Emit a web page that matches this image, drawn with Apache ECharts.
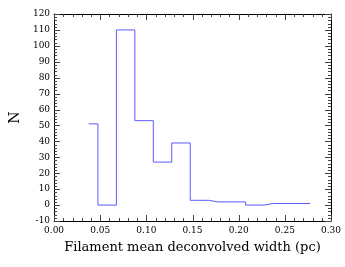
<!DOCTYPE html>
<html><head><meta charset="utf-8">
<script src="https://cdn.jsdelivr.net/npm/echarts@6/dist/echarts.min.js"></script>
<style>html,body{margin:0;padding:0;background:#fff}#c{width:345px;height:267px}</style>
</head><body><div id="c"></div>
<script>
var binCenters = [0.0375,0.0575,0.0775,0.0975,0.1175,0.1375,0.1575,0.1775,0.1975,0.2175,0.2375,0.2575,0.2775];
var counts = [51,0,110,53,27,39,3,2,2,0,1,1,1];
var xTitle = 'Filament mean deconvolved width (pc)';
var yTitle = 'N';
var xMin = 0, xMax = 0.3, xMajor = 0.05, xMinorPerMajor = 5;
var yMin = -10, yMax = 120, yMajor = 10, yMinorPerMajor = 5;
var font = 'DejaVu Serif';
var chart = echarts.init(document.getElementById('c'));

function buildTicks(lo, major, perMajor, nMajor){
  var out = [];
  for (var i = 0; i <= nMajor * perMajor; i++) {
    out.push([lo + i * major / perMajor, i % perMajor === 0 ? 1 : 0]);
  }
  return out;
}
var xTicks = buildTicks(xMin, xMajor, xMinorPerMajor, Math.round((xMax - xMin) / xMajor));
var yTicks = buildTicks(yMin, yMajor, yMinorPerMajor, Math.round((yMax - yMin) / yMajor));

function xa(pos, labels){
  return {type:'value', position:pos, min:xMin, max:xMax, interval:xMajor,
    axisLine:{show:true, onZero:false, lineStyle:{color:'#000', width:1}}, splitLine:{show:false},
    axisTick:{show:false}, minorTick:{show:false},
    axisLabel:{show:labels, color:'#000', fontFamily:font, fontSize:9, margin:5,
      formatter:function(v){return v.toFixed(2);}},
    name: labels ? xTitle : '', nameLocation:'middle', nameGap:20,
    nameTextStyle:{color:'#000', fontFamily:font, fontSize:13}};
}
function ya(pos, labels){
  return {type:'value', position:pos, min:yMin, max:yMax, interval:yMajor,
    axisLine:{show:true, onZero:false, lineStyle:{color:'#000', width:1}}, splitLine:{show:false},
    axisTick:{show:false}, minorTick:{show:false},
    axisLabel:{show:labels, color:'#000', fontFamily:font, fontSize:9, margin:4},
    name: labels ? yTitle : '', nameLocation:'middle', nameGap:28, nameRotate:90,
    nameTextStyle:{color:'#000', fontFamily:font, fontSize:14}};
}
var tickStyle = {stroke:'#444', lineWidth:1};
function px(v){ return Math.round(v) + 0.5; }
var data = binCenters.map(function(x,i){return [x, counts[i]];});
chart.setOption({
  animation:false,
  grid:{left:54, right:14, top:14, bottom:46},
  xAxis:[xa('bottom', true), xa('top', false)],
  yAxis:[ya('left', true), ya('right', false)],
  series:[
    {type:'line', step:'middle', data:data, symbol:'none',
      lineStyle:{color:'#5a5aff', width:1}, xAxisIndex:0, yAxisIndex:0, z:3},
    {type:'custom', silent:true, data:xTicks, encode:{x:0}, xAxisIndex:0, yAxisIndex:0,
      renderItem:function(params, api){
        var v = api.value(0), L = api.value(1) ? 6 : 3;
        var b = api.coord([v, yMin]), t = api.coord([v, yMax]);
        var x = px(b[0]);
        return {type:'group', children:[
          {type:'line', shape:{x1:x, y1:b[1], x2:x, y2:b[1]-L}, style:tickStyle},
          {type:'line', shape:{x1:x, y1:t[1], x2:x, y2:t[1]+L}, style:tickStyle}]};
      }},
    {type:'custom', silent:true, data:yTicks, encode:{y:0}, xAxisIndex:0, yAxisIndex:0,
      renderItem:function(params, api){
        var v = api.value(0), L = api.value(1) ? 6 : 3;
        var l = api.coord([xMin, v]), r = api.coord([xMax, v]);
        var y = px(l[1]);
        return {type:'group', children:[
          {type:'line', shape:{x1:l[0], y1:y, x2:l[0]+L, y2:y}, style:tickStyle},
          {type:'line', shape:{x1:r[0], y1:y, x2:r[0]-L, y2:y}, style:tickStyle}]};
      }}
  ]
});
</script></body></html>
